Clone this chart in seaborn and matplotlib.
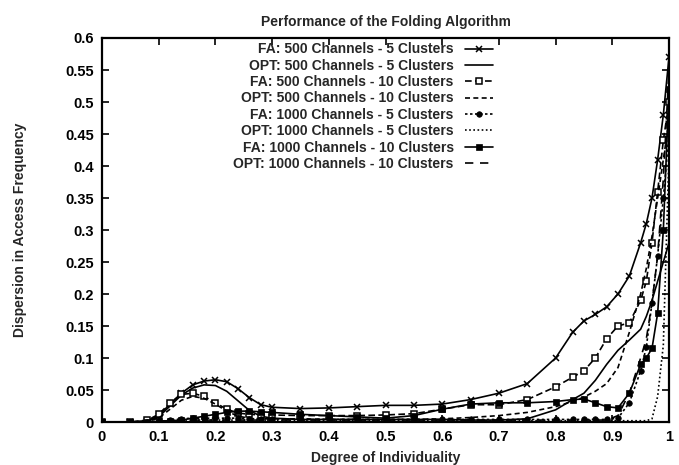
import numpy as np
import pandas as pd
import matplotlib
matplotlib.use("Agg")
import matplotlib.pyplot as plt
import seaborn as sns

# Shared x grid (degree of individuality)
X = [0, 0.05, 0.08, 0.1, 0.12, 0.14, 0.16, 0.18, 0.2, 0.22, 0.24, 0.26, 0.28, 0.3,
     0.35, 0.4, 0.45, 0.5, 0.55, 0.6, 0.65, 0.7, 0.75, 0.8, 0.83, 0.85, 0.87, 0.89,
     0.91, 0.93, 0.95, 0.96, 0.97, 0.98, 0.99, 1.0]

fa_500_5 = [0, 0, 0.002, 0.01, 0.028, 0.045, 0.058, 0.064, 0.066, 0.063, 0.052, 0.038,
            0.027, 0.023, 0.021, 0.022, 0.024, 0.026, 0.026, 0.028, 0.035, 0.045, 0.06,
            0.1, 0.14, 0.158, 0.168, 0.18, 0.2, 0.228, 0.28, 0.31, 0.35, 0.41, 0.48, 0.57]
opt_500_5 = [0, 0, 0.001, 0.008, 0.025, 0.042, 0.053, 0.058, 0.057, 0.048, 0.033, 0.018,
             0.009, 0.006, 0.004, 0.004, 0.004, 0.004, 0.004, 0.004, 0.003, 0.003, 0.005,
             0.019, 0.035, 0.045, 0.065, 0.09, 0.112, 0.128, 0.145, 0.165, 0.19, 0.22,
             0.25, 0.28]
fa_500_10 = [0, 0, 0.003, 0.012, 0.03, 0.043, 0.045, 0.04, 0.03, 0.02, 0.014, 0.012,
             0.011, 0.011, 0.01, 0.01, 0.01, 0.011, 0.013, 0.02, 0.027, 0.027, 0.035,
             0.055, 0.07, 0.08, 0.1, 0.13, 0.15, 0.155, 0.19, 0.22, 0.28, 0.36, 0.44, 0.5]
opt_500_10 = [0, 0, 0.001, 0.006, 0.02, 0.034, 0.04, 0.037, 0.028, 0.017, 0.009, 0.006,
              0.005, 0.005, 0.005, 0.004, 0.004, 0.004, 0.004, 0.005, 0.007, 0.01, 0.015,
              0.024, 0.032, 0.039, 0.048, 0.06, 0.085, 0.14, 0.2, 0.24, 0.29, 0.35, 0.41,
              0.47]
fa_1000_5 = [0, 0, 0, 0.001, 0.003, 0.005, 0.006, 0.006, 0.006, 0.006, 0.006, 0.005,
             0.005, 0.005, 0.004, 0.004, 0.004, 0.004, 0.004, 0.004, 0.004, 0.004, 0.004,
             0.004, 0.004, 0.004, 0.004, 0.004, 0.006, 0.03, 0.08, 0.117, 0.186, 0.26,
             0.35, 0.45]
opt_1000_5 = [0, 0, 0, 0.001, 0.002, 0.003, 0.003, 0.003, 0.003, 0.003, 0.003, 0.003,
              0.003, 0.003, 0.002, 0.002, 0.002, 0.002, 0.002, 0.002, 0.002, 0.002, 0.002,
              0.002, 0.002, 0.002, 0.002, 0.002, 0.002, 0.002, 0.002, 0.002, 0.005, 0.04,
              0.12, 0.42]
fa_1000_10 = [0, 0, 0, 0.001, 0.002, 0.003, 0.006, 0.009, 0.012, 0.015, 0.017, 0.017,
              0.016, 0.015, 0.012, 0.01, 0.008, 0.006, 0.01, 0.02, 0.028, 0.03, 0.03,
              0.032, 0.035, 0.036, 0.03, 0.024, 0.022, 0.045, 0.09, 0.1, 0.115, 0.17,
              0.3, 0.52]
opt_1000_10 = [0, 0, 0, 0.001, 0.002, 0.003, 0.003, 0.003, 0.003, 0.003, 0.003, 0.003,
               0.003, 0.003, 0.003, 0.003, 0.003, 0.003, 0.003, 0.003, 0.003, 0.003,
               0.003, 0.003, 0.003, 0.003, 0.003, 0.003, 0.01, 0.045, 0.1, 0.13, 0.186,
               0.26, 0.38, 0.55]

labels = ["FA: 500 Channels - 5 Clusters", "OPT: 500 Channels - 5 Clusters",
          "FA: 500 Channels - 10 Clusters", "OPT: 500 Channels - 10 Clusters",
          "FA: 1000 Channels - 5 Clusters", "OPT: 1000 Channels - 5 Clusters",
          "FA: 1000 Channels - 10 Clusters", "OPT: 1000 Channels - 10 Clusters"]
series = [fa_500_5, opt_500_5, fa_500_10, opt_500_10,
          fa_1000_5, opt_1000_5, fa_1000_10, opt_1000_10]

styles = [
    dict(linestyle="-", marker="x", markersize=4.5, markeredgewidth=1.1),
    dict(linestyle="-"),
    dict(linestyle=(0, (4, 2)), marker="s", markersize=4, markerfacecolor="white",
         markeredgewidth=1.1),
    dict(linestyle=(0, (3, 2))),
    dict(linestyle=(0, (1.5, 1.5)), marker="o", markersize=4, markeredgewidth=0.5),
    dict(linestyle=(0, (1, 1.5))),
    dict(linestyle="-", marker="s", markersize=4, markeredgewidth=0.5),
    dict(linestyle=(0, (5, 4))),
]

sns.set_style("ticks")
plt.rcParams["font.family"] = ["Liberation Sans", "DejaVu Sans"]
plt.rcParams["font.weight"] = "bold"

fig = plt.figure(figsize=(6.79, 4.65), dpi=100)
ax = fig.add_axes([102 / 679, 1 - 422 / 465, (669 - 102) / 679, (422 - 38) / 465])

for lab, ys, st in zip(labels, series, styles):
    df = pd.DataFrame({"x": X, "y": ys})
    sns.lineplot(data=df, x="x", y="y", ax=ax, color="black", linewidth=1.2,
                 label=lab, markeredgecolor="black", **st)

ax.set_xlim(0, 1)
ax.set_ylim(0, 0.6)
ax.set_xticks(np.arange(0, 1.01, 0.1))
ax.set_xticklabels(["0", "0.1", "0.2", "0.3", "0.4", "0.5", "0.6", "0.7", "0.8", "0.9", "1"])
ax.set_yticks(np.arange(0, 0.601, 0.05))
ax.set_yticklabels(["0", "0.05", "0.1", "0.15", "0.2", "0.25", "0.3", "0.35", "0.4",
                    "0.45", "0.5", "0.55", "0.6"])
ax.tick_params(direction="in", length=5, width=1.2, top=True, right=True,
               labelsize=10.5, pad=6, colors="black")
for sp in ax.spines.values():
    sp.set_linewidth(1.6)
    sp.set_color("black")

ax.set_xlabel("Degree of Individuality", fontsize=10, fontweight="bold", labelpad=5)
ax.set_ylabel("Dispersion in Access Frequency", fontsize=10, fontweight="bold", labelpad=27)
ax.set_title("Performance of the Folding Algorithm", fontsize=10, fontweight="bold", pad=9)

leg = ax.legend(loc="upper right", bbox_to_anchor=(494 / 679, 1 - 41 / 465),
                bbox_transform=fig.transFigure, frameon=False, markerfirst=False,
                fontsize=10, labelspacing=0.17, handlelength=2.0, handletextpad=0.8,
                borderpad=0.1, borderaxespad=0)
for t in leg.get_texts():
    t.set_ha("right")

fig.savefig("out.png", dpi=100)
